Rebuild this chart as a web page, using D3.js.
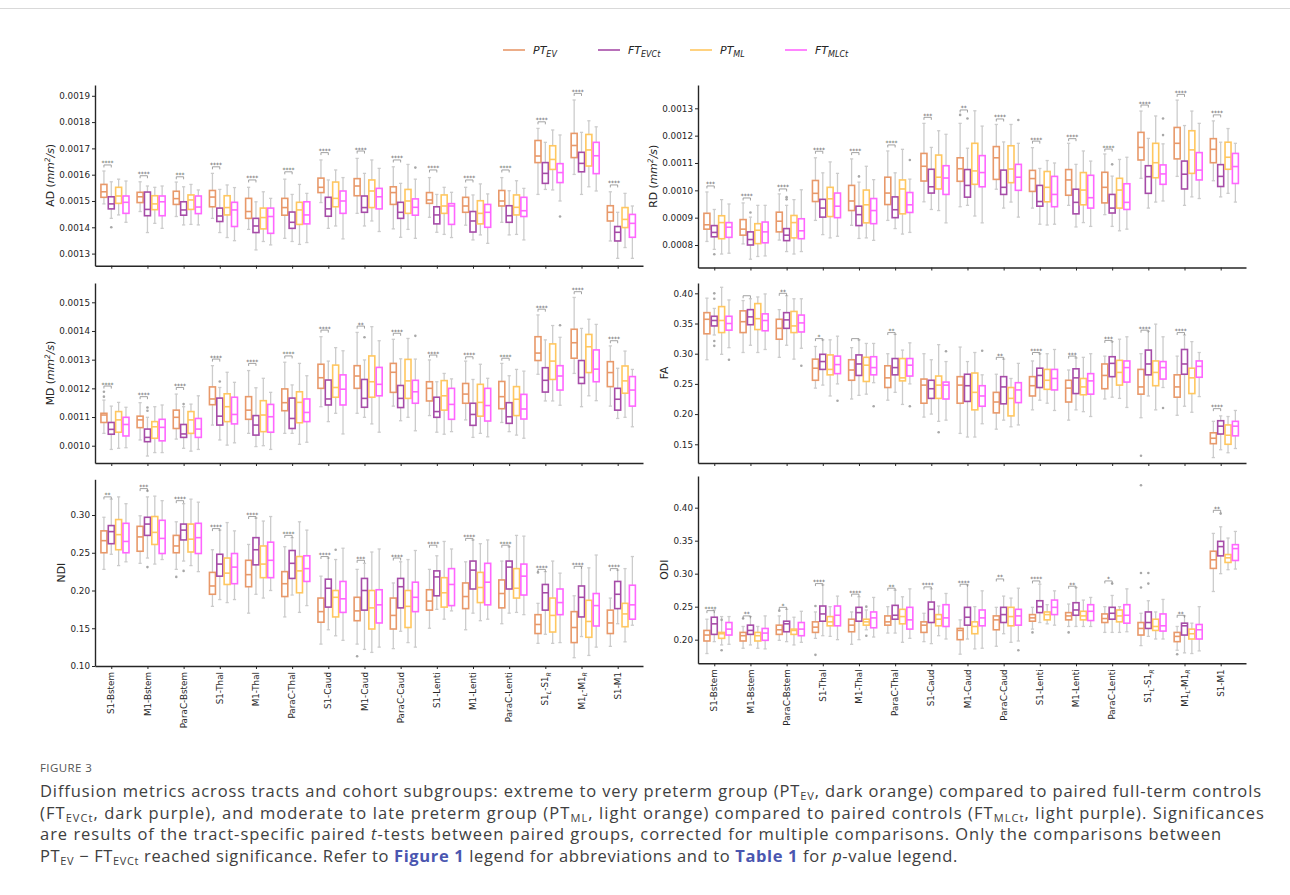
<!DOCTYPE html>
<html>
<head>
<meta charset="utf-8">
<script src="https://cdn.jsdelivr.net/npm/d3@7/dist/d3.min.js"></script>
<style>
body { margin: 0; background: #fff; }
svg { display: block; font-family: 'DejaVu Sans', sans-serif; }
</style>
</head>
<body>
<svg id="chart" width="1290" height="895"></svg>
<script>
// tracts on the x axis ("_X" marks a subscript)
const tracts = ['S1-Bstem', 'M1-Bstem', 'ParaC-Bstem', 'S1-Thal', 'M1-Thal', 'ParaC-Thal',
  'S1-Caud', 'M1-Caud', 'ParaC-Caud', 'S1-Lenti', 'M1-Lenti', 'ParaC-Lenti',
  'S1_L-S1_R', 'M1_L-M1_R', 'S1-M1'];
const groups = [['PT', 'EV'], ['FT', 'EVCt'], ['PT', 'ML'], ['FT', 'MLCt']];

// box stats per tract: [low whisker, q1, median, q3, high whisker]
const AD_PT_EV = [[1489e-6,1514e-6,1535e-6,1563e-6,1614e-6],[1460e-6,1494e-6,1516e-6,1533e-6,1573e-6],[1441e-6,1487e-6,1509e-6,1537e-6,1572e-6],[1434e-6,1478e-6,1515e-6,1540e-6,1605e-6],[1392e-6,1434e-6,1460e-6,1510e-6,1552e-6],[1358e-6,1446e-6,1475e-6,1510e-6,1583e-6],[1494e-6,1532e-6,1552e-6,1587e-6,1656e-6],[1453e-6,1520e-6,1557e-6,1585e-6,1662e-6],[1394e-6,1487e-6,1532e-6,1554e-6,1630e-6],[1438e-6,1491e-6,1504e-6,1532e-6,1589e-6],[1408e-6,1457e-6,1481e-6,1514e-6,1552e-6],[1419e-6,1481e-6,1500e-6,1540e-6,1589e-6],[1525e-6,1646e-6,1671e-6,1730e-6,1776e-6],[1601e-6,1665e-6,1711e-6,1757e-6,1884e-6],[1348e-6,1424e-6,1457e-6,1482e-6,1535e-6]];
const AD_FT_EVCt = [[1434e-6,1470e-6,1489e-6,1516e-6,1573e-6],[1380e-6,1444e-6,1468e-6,1534e-6,1557e-6],[1409e-6,1446e-6,1466e-6,1497e-6,1554e-6],[1380e-6,1422e-6,1443e-6,1473e-6,1544e-6],[1314e-6,1380e-6,1405e-6,1434e-6,1497e-6],[1346e-6,1396e-6,1419e-6,1458e-6,1525e-6],[1396e-6,1442e-6,1470e-6,1514e-6,1580e-6],[1405e-6,1457e-6,1475e-6,1519e-6,1605e-6],[1362e-6,1434e-6,1457e-6,1495e-6,1567e-6],[1381e-6,1413e-6,1447e-6,1478e-6,1525e-6],[1352e-6,1382e-6,1424e-6,1460e-6,1523e-6],[1371e-6,1419e-6,1444e-6,1482e-6,1539e-6],[1544e-6,1567e-6,1605e-6,1646e-6,1723e-6],[1525e-6,1611e-6,1643e-6,1685e-6,1761e-6],[1282e-6,1348e-6,1381e-6,1403e-6,1457e-6]];
const AD_PT_ML = [[1447e-6,1491e-6,1519e-6,1552e-6,1583e-6],[1415e-6,1467e-6,1489e-6,1520e-6,1552e-6],[1411e-6,1468e-6,1504e-6,1523e-6,1563e-6],[1361e-6,1447e-6,1475e-6,1520e-6,1561e-6],[1346e-6,1394e-6,1437e-6,1473e-6,1535e-6],[1335e-6,1411e-6,1466e-6,1495e-6,1563e-6],[1405e-6,1478e-6,1510e-6,1572e-6,1618e-6],[1424e-6,1475e-6,1538e-6,1580e-6,1656e-6],[1392e-6,1453e-6,1500e-6,1544e-6,1639e-6],[1373e-6,1453e-6,1481e-6,1523e-6,1552e-6],[1371e-6,1413e-6,1453e-6,1501e-6,1565e-6],[1373e-6,1447e-6,1476e-6,1523e-6,1577e-6],[1542e-6,1620e-6,1658e-6,1710e-6,1770e-6],[1554e-6,1633e-6,1694e-6,1753e-6,1805e-6],[1323e-6,1399e-6,1430e-6,1475e-6,1529e-6]];
const AD_FT_MLCt = [[1419e-6,1453e-6,1495e-6,1519e-6,1576e-6],[1396e-6,1444e-6,1497e-6,1519e-6,1557e-6],[1409e-6,1452e-6,1477e-6,1519e-6,1542e-6],[1349e-6,1403e-6,1466e-6,1495e-6,1551e-6],[1333e-6,1377e-6,1441e-6,1473e-6,1510e-6],[1342e-6,1413e-6,1447e-6,1497e-6,1529e-6],[1356e-6,1453e-6,1500e-6,1538e-6,1589e-6],[1384e-6,1470e-6,1516e-6,1548e-6,1624e-6],[1358e-6,1446e-6,1476e-6,1508e-6,1583e-6],[1361e-6,1411e-6,1481e-6,1490e-6,1533e-6],[1339e-6,1400e-6,1457e-6,1487e-6,1527e-6],[1352e-6,1441e-6,1463e-6,1514e-6,1548e-6],[1500e-6,1570e-6,1608e-6,1642e-6,1751e-6],[1538e-6,1604e-6,1672e-6,1723e-6,1782e-6],[1282e-6,1362e-6,1415e-6,1449e-6,1481e-6]];
const AD_OUT = [[0,1,1400e-6],[8,3,1627e-6],[12,3,1441e-6]];
const AD_SIG = [['****',1637e-6],['****',1596e-6],['***',1592e-6],['****',1630e-6],['****',1580e-6],['****',1611e-6],['****',1684e-6],['****',1690e-6],['****',1656e-6],['****',1618e-6],['****',1580e-6],['****',1618e-6],['****',1801e-6],['****',1909e-6],['****',1561e-6]];
const AD_TICKS = [0.0013, 0.0014, 0.0015, 0.0016, 0.0017, 0.0018, 0.0019];

const RD_PT_EV = [[813e-6,858e-6,874e-6,916e-6,994e-6],[804e-6,836e-6,858e-6,893e-6,954e-6],[818e-6,848e-6,887e-6,920e-6,987e-6],[890e-6,959e-6,989e-6,1036e-6,1119e-6],[872e-6,926e-6,961e-6,1018e-6,1115e-6],[890e-6,948e-6,990e-6,1048e-6,1144e-6],[958e-6,1034e-6,1088e-6,1135e-6,1245e-6],[940e-6,1033e-6,1079e-6,1119e-6,1245e-6],[1004e-6,1040e-6,1119e-6,1160e-6,1241e-6],[935e-6,996e-6,1043e-6,1073e-6,1156e-6],[945e-6,982e-6,1038e-6,1076e-6,1172e-6],[911e-6,954e-6,1011e-6,1066e-6,1133e-6],[1044e-6,1111e-6,1157e-6,1212e-6,1290e-6],[1051e-6,1115e-6,1172e-6,1230e-6,1330e-6],[1035e-6,1101e-6,1150e-6,1189e-6,1254e-6]];
const RD_FT_EVCt = [[784e-6,830e-6,846e-6,871e-6,930e-6],[748e-6,800e-6,820e-6,848e-6,902e-6],[776e-6,816e-6,836e-6,860e-6,945e-6],[838e-6,902e-6,935e-6,967e-6,1064e-6],[824e-6,871e-6,911e-6,942e-6,1030e-6],[860e-6,900e-6,929e-6,976e-6,1064e-6],[930e-6,990e-6,1013e-6,1077e-6,1157e-6],[945e-6,975e-6,1018e-6,1076e-6,1154e-6],[935e-6,985e-6,1011e-6,1074e-6,1177e-6],[876e-6,942e-6,959e-6,1018e-6,1080e-6],[866e-6,914e-6,956e-6,1004e-6,1095e-6],[868e-6,917e-6,935e-6,985e-6,1052e-6],[935e-6,989e-6,1050e-6,1090e-6,1190e-6],[945e-6,1005e-6,1059e-6,1107e-6,1237e-6],[976e-6,1014e-6,1051e-6,1094e-6,1176e-6]];
const RD_PT_ML = [[767e-6,823e-6,882e-6,907e-6,966e-6],[758e-6,805e-6,854e-6,878e-6,945e-6],[767e-6,826e-6,882e-6,908e-6,966e-6],[826e-6,904e-6,969e-6,1011e-6,1104e-6],[826e-6,881e-6,947e-6,1001e-6,1088e-6],[840e-6,914e-6,1005e-6,1038e-6,1150e-6],[926e-6,1005e-6,1048e-6,1129e-6,1218e-6],[906e-6,1022e-6,1071e-6,1172e-6,1291e-6],[957e-6,1028e-6,1078e-6,1163e-6,1241e-6],[873e-6,958e-6,1011e-6,1069e-6,1109e-6],[882e-6,947e-6,1001e-6,1065e-6,1144e-6],[852e-6,935e-6,1001e-6,1044e-6,1113e-6],[957e-6,1046e-6,1101e-6,1172e-6,1272e-6],[976e-6,1062e-6,1148e-6,1218e-6,1290e-6],[989e-6,1077e-6,1121e-6,1176e-6,1226e-6]];
const RD_FT_MLCt = [[770e-6,828e-6,865e-6,882e-6,950e-6],[760e-6,808e-6,848e-6,884e-6,945e-6],[776e-6,823e-6,852e-6,896e-6,1002e-6],[832e-6,900e-6,942e-6,990e-6,1062e-6],[817e-6,878e-6,926e-6,970e-6,1039e-6],[846e-6,919e-6,947e-6,992e-6,1041e-6],[881e-6,985e-6,1045e-6,1090e-6,1205e-6],[881e-6,1013e-6,1065e-6,1127e-6,1235e-6],[902e-6,1000e-6,1048e-6,1095e-6,1172e-6],[876e-6,940e-6,985e-6,1051e-6,1100e-6],[868e-6,935e-6,973e-6,1055e-6,1107e-6],[858e-6,930e-6,956e-6,1024e-6,1121e-6],[961e-6,1022e-6,1060e-6,1093e-6,1170e-6],[970e-6,1038e-6,1074e-6,1138e-6,1245e-6],[957e-6,1025e-6,1087e-6,1135e-6,1172e-6]];
const RD_OUT = [[0,1,766e-6],[1,1,919e-6],[2,1,975e-6],[2,1,967e-6],[4,1,1051e-6],[5,3,1111e-6],[7,0,1276e-6],[7,1,1263e-6],[8,3,1257e-6],[11,1,1095e-6],[12,3,1263e-6],[12,3,1202e-6]];
const RD_SIG = [['***',1016e-6],['****',972e-6],['****',1005e-6],['****',1143e-6],['****',1138e-6],['****',1166e-6],['***',1267e-6],['**',1294e-6],['****',1261e-6],['****',1180e-6],['****',1189e-6],['****',1151e-6],['****',1312e-6],['****',1351e-6],['****',1276e-6]];
const RD_TICKS = [0.0008, 0.0009, 0.0010, 0.0011, 0.0012, 0.0013];

const MD_PT_EV = [[1043e-6,1081e-6,1107e-6,1113e-6,1159e-6],[1020e-6,1063e-6,1090e-6,1103e-6,1150e-6],[1023e-6,1060e-6,1099e-6,1124e-6,1180e-6],[1072e-6,1143e-6,1163e-6,1205e-6,1279e-6],[1043e-6,1092e-6,1124e-6,1171e-6,1262e-6],[1043e-6,1122e-6,1150e-6,1198e-6,1291e-6],[1136e-6,1200e-6,1237e-6,1284e-6,1380e-6],[1113e-6,1200e-6,1243e-6,1279e-6,1395e-6],[1138e-6,1186e-6,1256e-6,1287e-6,1371e-6],[1105e-6,1156e-6,1200e-6,1223e-6,1299e-6],[1090e-6,1148e-6,1180e-6,1217e-6,1295e-6],[1081e-6,1129e-6,1171e-6,1224e-6,1287e-6],[1249e-6,1297e-6,1323e-6,1380e-6,1456e-6],[1252e-6,1305e-6,1359e-6,1406e-6,1517e-6],[1138e-6,1206e-6,1255e-6,1293e-6,1348e-6]];
const MD_FT_EVCt = [[987e-6,1040e-6,1057e-6,1081e-6,1138e-6],[964e-6,1014e-6,1029e-6,1058e-6,1099e-6],[991e-6,1029e-6,1041e-6,1074e-6,1136e-6],[1020e-6,1072e-6,1103e-6,1166e-6,1203e-6],[997e-6,1037e-6,1072e-6,1105e-6,1202e-6],[1043e-6,1060e-6,1095e-6,1166e-6,1212e-6],[1084e-6,1142e-6,1163e-6,1229e-6,1295e-6],[1099e-6,1134e-6,1165e-6,1231e-6,1299e-6],[1087e-6,1133e-6,1165e-6,1210e-6,1303e-6],[1047e-6,1099e-6,1119e-6,1169e-6,1223e-6],[1029e-6,1071e-6,1109e-6,1148e-6,1231e-6],[1049e-6,1078e-6,1101e-6,1150e-6,1244e-6],[1156e-6,1187e-6,1228e-6,1272e-6,1369e-6],[1136e-6,1217e-6,1238e-6,1297e-6,1409e-6],[1095e-6,1124e-6,1162e-6,1200e-6,1270e-6]];
const MD_PT_ML = [[991e-6,1047e-6,1090e-6,1119e-6,1151e-6],[976e-6,1026e-6,1066e-6,1084e-6,1136e-6],[981e-6,1043e-6,1090e-6,1119e-6,1145e-6],[1002e-6,1084e-6,1136e-6,1181e-6,1256e-6],[1000e-6,1049e-6,1107e-6,1157e-6,1235e-6],[1005e-6,1080e-6,1151e-6,1188e-6,1287e-6],[1113e-6,1169e-6,1203e-6,1281e-6,1342e-6],[1076e-6,1169e-6,1223e-6,1313e-6,1415e-6],[1099e-6,1165e-6,1226e-6,1301e-6,1374e-6],[1040e-6,1124e-6,1174e-6,1227e-6,1252e-6],[1043e-6,1103e-6,1151e-6,1214e-6,1284e-6],[1037e-6,1105e-6,1162e-6,1206e-6,1266e-6],[1156e-6,1231e-6,1295e-6,1355e-6,1419e-6],[1174e-6,1255e-6,1345e-6,1388e-6,1441e-6],[1099e-6,1183e-6,1226e-6,1278e-6,1330e-6]];
const MD_FT_MLCt = [[993e-6,1034e-6,1074e-6,1099e-6,1134e-6],[976e-6,1017e-6,1064e-6,1092e-6,1142e-6],[987e-6,1029e-6,1058e-6,1095e-6,1174e-6],[1010e-6,1076e-6,1109e-6,1169e-6,1221e-6],[987e-6,1047e-6,1101e-6,1144e-6,1186e-6],[1012e-6,1084e-6,1116e-6,1163e-6,1244e-6],[1041e-6,1142e-6,1197e-6,1247e-6,1331e-6],[1047e-6,1174e-6,1214e-6,1273e-6,1366e-6],[1052e-6,1148e-6,1188e-6,1228e-6,1302e-6],[1049e-6,1092e-6,1144e-6,1200e-6,1233e-6],[1031e-6,1086e-6,1140e-6,1200e-6,1235e-6],[1026e-6,1093e-6,1128e-6,1179e-6,1260e-6],[1141e-6,1194e-6,1243e-6,1279e-6,1378e-6],[1157e-6,1223e-6,1267e-6,1334e-6,1423e-6],[1066e-6,1138e-6,1194e-6,1241e-6,1266e-6]];
const MD_OUT = [[0,0,1188e-6],[0,0,1171e-6],[1,1,1133e-6],[1,1,1122e-6],[2,1,1145e-6],[3,1,1224e-6],[7,1,1378e-6],[8,3,1383e-6],[12,3,1420e-6]];
const MD_SIG = [['****',1208e-6],['****',1171e-6],['****',1203e-6],['****',1302e-6],['****',1287e-6],['****',1313e-6],['****',1403e-6],['**',1417e-6],['****',1392e-6],['****',1316e-6],['****',1310e-6],['****',1305e-6],['****',1476e-6],['****',1537e-6],['****',1366e-6]];
const MD_TICKS = [0.0010, 0.0011, 0.0012, 0.0013, 0.0014, 0.0015];

const FA_PT_EV = [[.290,.333,.357,.368,.392],[.302,.335,.353,.371,.388],[.294,.324,.342,.357,.373],[.243,.256,.276,.291,.312],[.225,.256,.273,.290,.310],[.223,.244,.260,.280,.300],[.195,.218,.248,.258,.300],[.168,.218,.248,.262,.311],[.175,.202,.220,.236,.266],[.207,.230,.247,.262,.288],[.190,.220,.243,.256,.273],[.225,.242,.264,.283,.296],[.194,.233,.245,.274,.300],[.198,.228,.245,.265,.296],[.128,.151,.160,.169,.188]];
const FA_FT_EVCt = [[.331,.346,.355,.362,.375],[.314,.348,.361,.373,.391],[.314,.342,.356,.368,.396],[.248,.274,.287,.299,.323],[.231,.264,.283,.298,.323],[.236,.265,.277,.292,.332],[.200,.226,.242,.256,.290],[.162,.221,.247,.266,.287],[.190,.217,.245,.262,.291],[.223,.244,.264,.276,.300],[.207,.234,.260,.275,.293],[.228,.262,.284,.295,.320],[.230,.265,.283,.306,.337],[.213,.266,.283,.307,.331],[.141,.167,.180,.189,.197]];
const FA_PT_ML = [[.299,.335,.355,.378,.410],[.302,.340,.358,.383,.394],[.291,.335,.346,.370,.391],[.230,.265,.274,.298,.323],[.233,.254,.281,.294,.317],[.216,.255,.260,.292,.306],[.188,.226,.248,.263,.315],[.162,.207,.236,.268,.302],[.179,.197,.226,.244,.259],[.218,.241,.256,.274,.300],[.204,.232,.245,.259,.294],[.226,.248,.269,.289,.324],[.207,.247,.269,.288,.349],[.203,.234,.260,.276,.320],[.136,.150,.165,.182,.196]];
const FA_FT_MLCt = [[.310,.339,.350,.362,.389],[.307,.338,.355,.366,.399],[.309,.336,.351,.364,.391],[.250,.267,.282,.296,.329],[.252,.265,.277,.295,.317],[.250,.263,.281,.292,.318],[.190,.225,.248,.253,.287],[.184,.213,.230,.247,.265],[.182,.219,.240,.252,.284],[.206,.240,.259,.274,.307],[.196,.233,.255,.267,.300],[.211,.253,.277,.288,.328],[.244,.258,.277,.287,.328],[.229,.261,.279,.288,.302],[.143,.164,.180,.188,.206]];
const FA_OUT = [[0,1,.400],[0,1,.391],[0,1,.321],[0,1,.313],[0,3,.290],[2,3,.280],[3,3,.222],[4,3,.213],[5,3,.213],[6,2,.170],[6,3,.304],[7,3,.305],[12,0,.131],[12,3,.210]];
const FA_SIG = [null,['',.396],['**',.400],['*',.325],['',.325],['**',.335],null,null,['**',.294],['****',.302],['***',.296],['***',.322],['****',.339],['****',.335],['****',.209]];
const FA_TICKS = [0.15, 0.20, 0.25, 0.30, 0.35, 0.40];

const NDI_PT_EV = [[.228,.250,.266,.279,.297],[.236,.252,.271,.285,.299],[.228,.250,.259,.273,.291],[.179,.195,.206,.224,.254],[.170,.205,.221,.240,.261],[.165,.192,.209,.225,.258],[.129,.158,.172,.190,.219],[.129,.160,.173,.191,.228],[.123,.149,.167,.190,.210],[.150,.174,.186,.201,.228],[.148,.176,.192,.210,.238],[.156,.177,.196,.214,.239],[.130,.143,.155,.168,.183],[.111,.131,.151,.172,.193],[.126,.143,.157,.174,.190]];
const NDI_FT_EVCt = [[.248,.262,.278,.286,.321],[.243,.273,.288,.297,.324],[.239,.267,.280,.288,.315],[.188,.219,.235,.248,.280],[.195,.234,.254,.270,.296],[.194,.216,.236,.253,.270],[.148,.178,.203,.215,.243],[.122,.174,.200,.216,.236],[.146,.177,.205,.216,.238],[.175,.193,.218,.226,.246],[.170,.202,.227,.239,.267],[.170,.202,.231,.239,.258],[.142,.174,.197,.208,.225],[.139,.165,.191,.206,.232],[.156,.176,.195,.212,.227]];
const NDI_PT_ML = [[.233,.254,.274,.294,.324],[.235,.261,.277,.298,.325],[.233,.251,.268,.288,.321],[.184,.208,.223,.243,.290],[.190,.217,.235,.259,.292],[.171,.197,.226,.245,.291],[.140,.165,.191,.200,.241],[.118,.149,.177,.200,.251],[.131,.151,.179,.200,.241],[.162,.178,.197,.217,.265],[.160,.184,.204,.224,.262],[.171,.190,.203,.229,.273],[.130,.145,.167,.190,.239],[.114,.138,.159,.187,.230],[.132,.152,.169,.183,.229]];
const NDI_FT_MLCt = [[.238,.250,.265,.289,.315],[.241,.249,.269,.293,.319],[.225,.249,.270,.289,.317],[.188,.209,.231,.249,.279],[.200,.217,.240,.264,.298],[.180,.212,.229,.246,.280],[.134,.171,.189,.212,.256],[.125,.157,.181,.201,.255],[.125,.172,.191,.211,.253],[.173,.180,.208,.229,.255],[.162,.181,.211,.236,.267],[.168,.194,.219,.235,.272],[.131,.168,.184,.202,.223],[.125,.153,.180,.196,.247],[.154,.162,.181,.207,.245]];
const NDI_OUT = [[1,1,.332],[1,1,.231],[2,0,.218],[2,1,.226],[6,2,.254],[7,0,.113],[12,0,.224]];
const NDI_SIG = [['**',.324],['***',.335],['****',.319],['****',.282],['****',.298],['****',.273],['****',.245],['***',.240],['****',.243],['****',.260],['****',.269],['****',.260],['****',.228],['****',.232],['****',.229]];
const NDI_TICKS = [0.10, 0.15, 0.20, 0.25, 0.30];

const ODI_PT_EV = [[.179,.198,.207,.214,.231],[.187,.198,.206,.211,.220],[.199,.208,.215,.222,.236],[.202,.211,.219,.227,.242],[.193,.212,.222,.231,.242],[.210,.222,.227,.236,.250],[.197,.211,.222,.227,.240],[.178,.200,.214,.217,.230],[.190,.215,.230,.236,.249],[.216,.228,.233,.238,.249],[.220,.230,.236,.241,.254],[.211,.226,.232,.239,.250],[.191,.207,.217,.226,.240],[.184,.197,.205,.211,.220],[.273,.308,.321,.334,.361]];
const ODI_FT_EVCt = [[.197,.208,.224,.234,.245],[.192,.208,.214,.222,.235],[.197,.212,.224,.228,.246],[.206,.228,.239,.251,.283],[.200,.228,.241,.249,.265],[.210,.231,.237,.252,.275],[.194,.226,.246,.257,.277],[.201,.222,.234,.249,.283],[.209,.226,.238,.249,.266],[.226,.241,.250,.259,.284],[.220,.237,.245,.256,.279],[.211,.231,.240,.249,.267],[.205,.217,.226,.242,.259],[.180,.207,.221,.225,.236],[.300,.327,.341,.349,.371]];
const ODI_PT_ML = [[.192,.202,.209,.211,.235],[.187,.198,.206,.211,.220],[.192,.208,.214,.216,.234],[.205,.221,.227,.235,.250],[.215,.222,.227,.231,.245],[.196,.224,.235,.246,.265],[.206,.221,.231,.238,.251],[.186,.209,.220,.227,.250],[.196,.221,.235,.249,.263],[.224,.230,.238,.242,.253],[.220,.230,.236,.243,.260],[.211,.227,.236,.245,.250],[.201,.214,.220,.231,.242],[.179,.201,.209,.216,.225],[.306,.317,.324,.329,.354]];
const ODI_FT_MLCt = [[.193,.207,.216,.226,.235],[.186,.199,.210,.217,.236],[.196,.206,.216,.226,.243],[.200,.221,.237,.251,.266],[.204,.218,.233,.242,.264],[.202,.216,.230,.249,.277],[.201,.220,.233,.253,.270],[.187,.221,.233,.245,.274],[.198,.222,.236,.246,.278],[.222,.238,.249,.260,.274],[.220,.229,.243,.253,.264],[.212,.225,.237,.253,.277],[.201,.213,.221,.239,.261],[.183,.201,.215,.223,.250],[.307,.320,.338,.344,.364]];
const ODI_OUT = [[0,2,.230],[0,2,.184],[1,0,.232],[2,0,.244],[3,0,.251],[3,0,.177],[4,2,.250],[4,2,.206],[8,3,.184],[9,0,.211],[10,0,.211],[11,1,.285],[12,0,.434],[12,0,.301],[12,0,.279],[12,1,.301],[12,1,.285],[13,0,.178],[14,1,.391]];
const ODI_SIG = [['****',.244],['**',.236],['*',.249],['****',.285],['****',.269],['**',.278],['****',.280],['****',.284],['**',.292],['****',.289],['**',.281],['*',.289],null,['**',.237],['**',.396]];
const ODI_TICKS = [0.20, 0.25, 0.30, 0.35, 0.40];

const COLORS = ['#e8996a', '#a64ca8', '#ffc760', '#ff66ff'];
const WHISKER = '#cccccc';
const INK = '#262626';

const panels = [
  {name: 'AD', unit: true, series: [AD_PT_EV, AD_FT_EVCt, AD_PT_ML, AD_FT_MLCt], out: AD_OUT, sig: AD_SIG, ticks: AD_TICKS, fmt: '.4f',
    x0: 95, x1: 643, y0: 85, y1: 265.7, ylim: [0.001254, 0.001941], labels: false},
  {name: 'RD', unit: true, series: [RD_PT_EV, RD_FT_EVCt, RD_PT_ML, RD_FT_MLCt], out: RD_OUT, sig: RD_SIG, ticks: RD_TICKS, fmt: '.4f',
    x0: 698, x1: 1246, y0: 85, y1: 267.5, ylim: [0.0007177, 0.0013853], labels: false},
  {name: 'MD', unit: true, series: [MD_PT_EV, MD_FT_EVCt, MD_PT_ML, MD_FT_MLCt], out: MD_OUT, sig: MD_SIG, ticks: MD_TICKS, fmt: '.4f',
    x0: 95, x1: 643, y0: 283, y1: 463, ylim: [0.0009397, 0.0015673], labels: false},
  {name: 'FA', unit: false, series: [FA_PT_EV, FA_FT_EVCt, FA_PT_ML, FA_FT_MLCt], out: FA_OUT, sig: FA_SIG, ticks: FA_TICKS, fmt: '.2f',
    x0: 698, x1: 1246, y0: 283, y1: 463, ylim: [0.119, 0.4171], labels: false},
  {name: 'NDI', unit: false, series: [NDI_PT_EV, NDI_FT_EVCt, NDI_PT_ML, NDI_FT_MLCt], out: NDI_OUT, sig: NDI_SIG, ticks: NDI_TICKS, fmt: '.2f',
    x0: 95, x1: 643, y0: 479.3, y1: 666, ylim: [0.10, 0.3473], labels: true},
  {name: 'ODI', unit: false, series: [ODI_PT_EV, ODI_FT_EVCt, ODI_PT_ML, ODI_FT_MLCt], out: ODI_OUT, sig: ODI_SIG, ticks: ODI_TICKS, fmt: '.2f',
    x0: 698, x1: 1246, y0: 476, y1: 663.3, ylim: [0.1642, 0.448], labels: true}
];

const svg = d3.select('#chart');

// thin rule at the very top of the page
svg.append('line').attr('x1', 0).attr('x2', 1290).attr('y1', 8.5).attr('y2', 8.5)
  .attr('stroke', '#d9d9d9').attr('stroke-width', 1);

// add "A_B" style text with subscripts into a text node
function addSubText(sel, str, size) {
  const shift = size * 0.28;
  let back = 0;
  str.split(/(_[A-Za-z]+)/).filter(s => s.length).forEach(part => {
    if (part[0] === '_') {
      sel.append('tspan').attr('font-size', size * 0.72).attr('font-style', 'italic')
        .attr('dy', shift).text(part.slice(1));
      back = -shift;
    } else {
      sel.append('tspan').attr('dy', back || null).text(part);
      back = 0;
    }
  });
}

function drawPanel(p) {
  const g = svg.append('g');
  const x = d3.scaleLinear().domain([-0.45, 14.7]).range([p.x0, p.x1]);
  const y = d3.scaleLinear().domain(p.ylim).range([p.y1, p.y0]);
  const off = d3.scaleLinear().domain([0, 3]).range([-7.35, 14.7]);
  const bw = 6;

  // whiskers, boxes, medians
  p.series.forEach((rows, gi) => {
    const gg = g.append('g');
    const cx = (d, i) => x(i) + off(gi);
    gg.selectAll('.wu').data(rows).join('line')
      .attr('x1', cx).attr('x2', cx).attr('y1', d => y(d[4])).attr('y2', d => y(d[3]))
      .attr('stroke', WHISKER).attr('stroke-width', 1.3);
    gg.selectAll('.wl').data(rows).join('line')
      .attr('x1', cx).attr('x2', cx).attr('y1', d => y(d[1])).attr('y2', d => y(d[0]))
      .attr('stroke', WHISKER).attr('stroke-width', 1.3);
    [0, 4].forEach(k => {
      gg.selectAll('.cap' + k).data(rows).join('line')
        .attr('x1', (d, i) => cx(d, i) - 1.6).attr('x2', (d, i) => cx(d, i) + 1.6)
        .attr('y1', d => y(d[k])).attr('y2', d => y(d[k]))
        .attr('stroke', WHISKER).attr('stroke-width', 1.3);
    });
    gg.selectAll('rect').data(rows).join('rect')
      .attr('x', (d, i) => cx(d, i) - bw / 2).attr('width', bw)
      .attr('y', d => y(d[3])).attr('height', d => y(d[1]) - y(d[3]))
      .attr('fill', '#fff').attr('stroke', COLORS[gi]).attr('stroke-width', 1.6);
    gg.selectAll('.med').data(rows).join('line')
      .attr('x1', (d, i) => cx(d, i) - bw / 2).attr('x2', (d, i) => cx(d, i) + bw / 2)
      .attr('y1', d => y(d[2])).attr('y2', d => y(d[2]))
      .attr('stroke', COLORS[gi]).attr('stroke-width', 1.6);
  });

  // outliers
  g.selectAll('circle').data(p.out).join('circle')
    .attr('cx', d => x(d[0]) + off(d[1])).attr('cy', d => y(d[2]))
    .attr('r', 1.3).attr('fill', '#a8a8a8');

  // significance brackets PT_EV vs FT_EVCt
  const sig = p.sig.map((s, i) => s ? {label: s[0], v: s[1], i} : null).filter(Boolean);
  const sg = g.append('g');
  sg.selectAll('path').data(sig).join('path')
    .attr('d', d => {
      const a = x(d.i) + off(0), b = x(d.i) + off(1), yy = y(d.v);
      return `M${a},${yy + 2.5}V${yy}H${b}V${yy + 2.5}`;
    })
    .attr('fill', 'none').attr('stroke', '#8c8c8c').attr('stroke-width', 0.8);
  sg.selectAll('text').data(sig.filter(d => d.label)).join('text')
    .attr('x', d => (x(d.i) + off(0) + x(d.i) + off(1)) / 2)
    .attr('y', d => y(d.v) + 0.5)
    .attr('text-anchor', 'middle').attr('font-size', 6).attr('fill', '#555')
    .text(d => d.label);

  // y axis
  const gy = g.append('g').attr('transform', `translate(${p.x0},0)`)
    .call(d3.axisLeft(y).tickValues(p.ticks).tickFormat(d3.format(p.fmt)).tickSize(3).tickSizeOuter(0).tickPadding(2));
  gy.select('.domain').attr('stroke', INK).attr('stroke-width', 1.4);
  gy.selectAll('.tick line').attr('stroke', INK).attr('stroke-width', 1);
  gy.selectAll('.tick text').attr('font-size', 8.8).attr('fill', INK).attr('font-family', 'DejaVu Sans');

  // x axis
  const gx = g.append('g').attr('transform', `translate(0,${p.y1})`)
    .call(d3.axisBottom(x).tickValues(d3.range(tracts.length)).tickFormat('').tickSize(3).tickSizeOuter(0));
  gx.select('.domain').attr('stroke', INK).attr('stroke-width', 1.4);
  gx.selectAll('.tick line').attr('stroke', INK).attr('stroke-width', 1);
  gx.selectAll('.tick text').remove();

  if (p.labels) {
    tracts.forEach((t, i) => {
      const tx = g.append('text')
        .attr('transform', `translate(${x(i)},${p.y1 + 6}) rotate(-90)`)
        .attr('text-anchor', 'end').attr('dy', '0.35em')
        .attr('font-size', 8.8).attr('fill', INK);
      addSubText(tx, t, 8.8);
    });
  }

  // y label, left of tick labels
  const bb = gy.node().getBBox();
  const ly = g.append('text')
    .attr('transform', `translate(${p.x0 + bb.x - 5},${(p.y0 + p.y1) / 2}) rotate(-90)`)
    .attr('text-anchor', 'middle').attr('font-size', 10.8).attr('fill', INK);
  if (p.unit) {
    ly.append('tspan').text(p.name + ' (');
    ly.append('tspan').attr('font-style', 'italic').text('mm');
    ly.append('tspan').attr('font-style', 'italic').attr('font-size', 7.5).attr('dy', -4).text('2');
    ly.append('tspan').attr('font-style', 'italic').attr('dy', 4).text('/s');
    ly.append('tspan').text(')');
  } else {
    ly.text(p.name);
  }
}

panels.forEach(drawPanel);

// legend
const legendX = [503, 598, 690, 785];
const lg = svg.append('g');
groups.forEach((gr, i) => {
  lg.append('line').attr('x1', legendX[i]).attr('x2', legendX[i] + 22)
    .attr('y1', 50).attr('y2', 50).attr('stroke', COLORS[i]).attr('stroke-width', 1.6);
  const t = lg.append('text').attr('x', legendX[i] + 30).attr('y', 54)
    .attr('font-size', 11).attr('font-style', 'italic').attr('fill', INK);
  t.append('tspan').text(gr[0]);
  t.append('tspan').attr('font-size', 8).attr('dy', 3).text(gr[1]);
});

// caption
const cap = svg.append('g').attr('font-family', "'Open Sans', sans-serif").attr('fill', '#404040');
cap.append('text').attr('x', 40).attr('y', 772).attr('font-size', 11.5)
  .attr('letter-spacing', 0.4).attr('fill', '#555').text('FIGURE 3');

const capLines = [
  [['Diffusion metrics across tracts and cohort subgroups: extreme to very preterm group (PT'], ['EV', 'sub'], [', dark orange) compared to paired full-term controls']],
  [['(FT'], ['EVCt', 'sub'], [', dark purple), and moderate to late preterm group (PT'], ['ML', 'sub'], [', light orange) compared to paired controls (FT'], ['MLCt', 'sub'], [', light purple). Significances']],
  [['are results of the tract-specific paired '], ['t', 'it'], ['-tests between paired groups, corrected for multiple comparisons. Only the comparisons between']],
  [['PT'], ['EV', 'sub'], [' \u2212 FT'], ['EVCt', 'sub'], [' reached significance. Refer to '], ['Figure 1', 'link'], [' legend for abbreviations and to '], ['Table 1', 'link'], [' for '], ['p', 'it'], ['-value legend.']]
];
// right edge each line reaches in the figure
const capRight = [1262, 1265, 1222, 958];
capLines.forEach((parts, li) => {
  const t = cap.append('text').attr('x', 40).attr('y', 797 + li * 21.7).attr('font-size', 16.5);
  let back = 0;
  parts.forEach(([s, kind]) => {
    if (kind === 'sub') {
      t.append('tspan').attr('font-size', 11).attr('dy', 2.8).text(s);
      back = -2.8;
      return;
    }
    const ts = t.append('tspan').attr('dy', back || null).text(s);
    back = 0;
    if (kind === 'it') ts.attr('font-style', 'italic');
    if (kind === 'link') ts.attr('font-weight', 'bold').attr('fill', '#4a56b0');
  });
  // spread letters so the line ends where it does in the figure
  const w = t.node().getComputedTextLength();
  t.attr('letter-spacing', (capRight[li] - 40 - w) / t.text().length);
});
</script>
</body>
</html>
